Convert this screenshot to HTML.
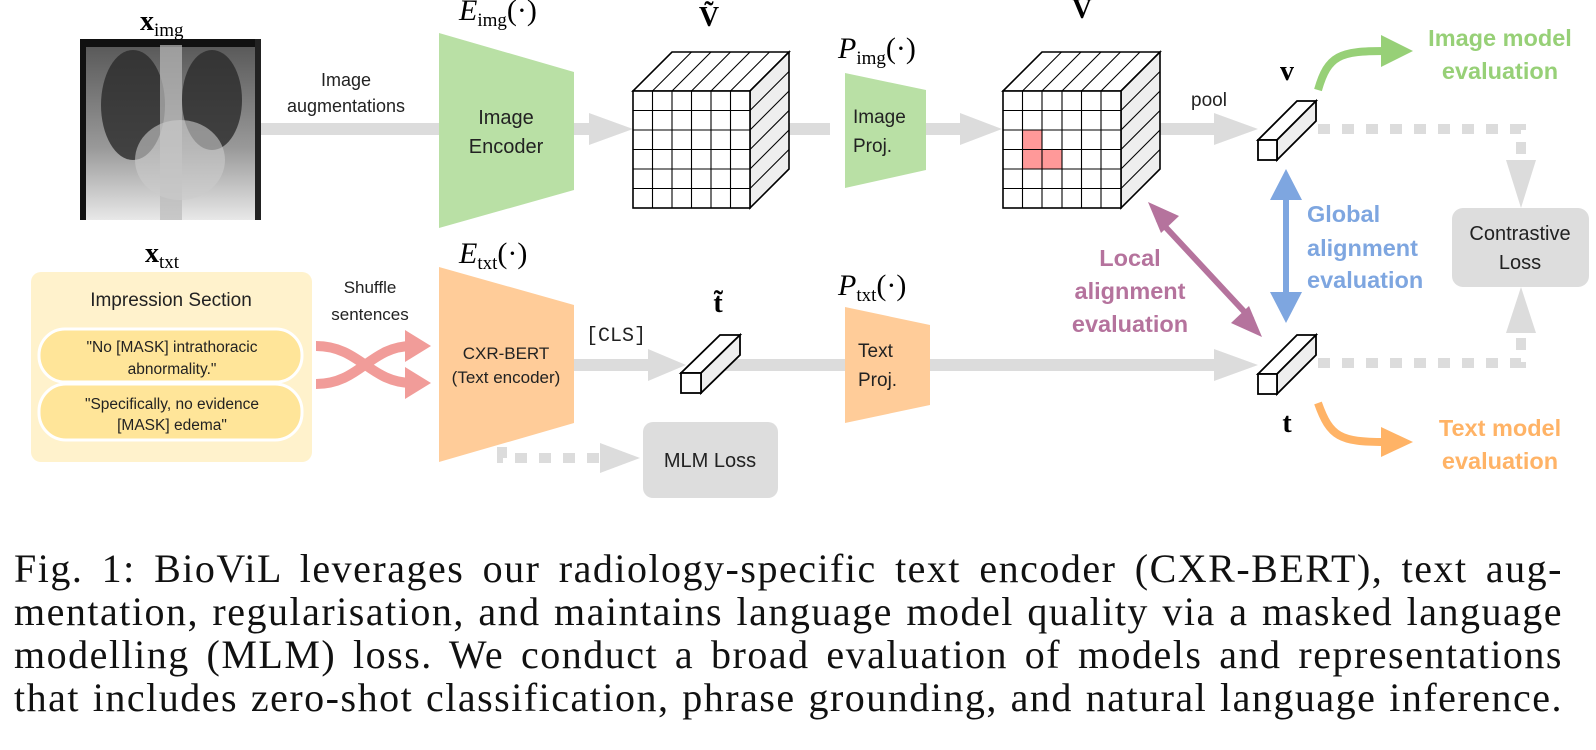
<!DOCTYPE html>
<html><head><meta charset="utf-8"><style>
html,body{margin:0;padding:0;background:#fff;}
svg{display:block;}
.s{font-family:"Liberation Sans",sans-serif;}
.m{font-family:"Liberation Serif",serif;}
#cap{position:absolute;left:14px;top:547px;width:1549px;font-family:"Liberation Serif",serif;font-size:40px;line-height:43px;letter-spacing:1.5px;color:#111;}
#cap div{white-space:nowrap;text-align:justify;text-align-last:justify;}
</style></head><body>
<div style="position:relative;width:1596px;height:750px;overflow:hidden">
<svg width="1596" height="750" viewBox="0 0 1596 750" xmlns="http://www.w3.org/2000/svg">
<defs>
<linearGradient id="xr" x1="0" y1="0" x2="0" y2="1"><stop offset="0" stop-color="#555"/><stop offset="0.6" stop-color="#999"/><stop offset="1" stop-color="#e8e8e8"/></linearGradient>
</defs>

<rect x="80" y="39" width="181" height="181" fill="url(#xr)"/>
<rect x="80" y="39" width="181" height="8" fill="#111"/>
<ellipse cx="133" cy="105" rx="32" ry="55" fill="#2a2a2a" opacity="0.8"/>
<ellipse cx="212" cy="100" rx="30" ry="50" fill="#2a2a2a" opacity="0.8"/>
<rect x="160" y="45" width="22" height="175" fill="#bbb" opacity="0.7"/>
<ellipse cx="180" cy="160" rx="45" ry="40" fill="#ccc" opacity="0.6"/>
<rect x="80" y="39" width="6" height="181" fill="#111"/>
<rect x="255" y="39" width="6" height="181" fill="#222"/>

<text class="m" x="140" y="30" font-size="28" font-weight="bold">x<tspan font-size="19" font-weight="normal" dy="6">img</tspan></text>
<text class="m" x="145" y="262" font-size="28" font-weight="bold">x<tspan font-size="19" font-weight="normal" dy="6">txt</tspan></text>
<text class="m" x="459" y="20" font-size="30" font-style="italic">E<tspan font-size="19" font-style="normal" dy="6">img</tspan><tspan dy="-6" font-style="normal">(·)</tspan></text>
<text class="m" x="459" y="263" font-size="30" font-style="italic">E<tspan font-size="19" font-style="normal" dy="6">txt</tspan><tspan dy="-6" font-style="normal">(·)</tspan></text>
<text class="m" x="838" y="58" font-size="30" font-style="italic">P<tspan font-size="19" font-style="normal" dy="6">img</tspan><tspan dy="-6" font-style="normal">(·)</tspan></text>
<text class="m" x="838" y="295" font-size="30" font-style="italic">P<tspan font-size="19" font-style="normal" dy="6">txt</tspan><tspan dy="-6" font-style="normal">(·)</tspan></text>
<text class="m" x="709" y="26" font-size="28" font-weight="bold" text-anchor="middle">Ṽ</text>
<text class="m" x="1082" y="18" font-size="28" font-weight="bold" text-anchor="middle">V</text>
<text class="m" x="718" y="312" font-size="28" font-weight="bold" text-anchor="middle">t̃</text>
<text class="m" x="1287" y="80" font-size="28" font-weight="bold" text-anchor="middle">v</text>
<text class="m" x="1287" y="432" font-size="28" font-weight="bold" text-anchor="middle">t</text>

<g fill="#dcdcdc">
<rect x="261" y="123" width="180" height="12"/>
<rect x="574" y="123" width="20" height="12"/>
<polygon points="589,113 633,129 589,145"/>
<rect x="750" y="123" width="80" height="12"/>
<rect x="926" y="123" width="38" height="12"/>
<polygon points="960,113 1002,129 960,145"/>
<rect x="1121" y="123" width="96" height="12"/>
<polygon points="1214,113 1258,129 1214,145"/>
<rect x="574" y="359" width="80" height="12"/>
<polygon points="648,349 686,365 648,381"/>
<rect x="700" y="359" width="145" height="12"/>
<rect x="930" y="359" width="288" height="12"/>
<polygon points="1214,349 1258,365 1214,381"/>
<polygon points="600,443 640,458 600,473"/>
<polygon points="1506,160 1536,160 1521,208"/>
<polygon points="1506,333 1536,333 1521,287"/>
</g>
<g stroke="#dcdcdc" stroke-width="10" fill="none" stroke-dasharray="12,12">
<path d="M502,447 V458 H600"/>
<path d="M1318,129 H1521 V162"/>
<path d="M1318,363 H1521 V333"/>
</g>

<text class="s" x="346" y="86" font-size="18" text-anchor="middle" fill="#222">Image</text>
<text class="s" x="346" y="112" font-size="18" text-anchor="middle" fill="#222">augmentations</text>

<polygon points="439,33 574,72 574,190 439,228" fill="#b9e0a5"/>
<text class="s" x="506" y="124" font-size="20" text-anchor="middle" fill="#222">Image</text>
<text class="s" x="506" y="153" font-size="20" text-anchor="middle" fill="#222">Encoder</text>
<polygon points="439,267 574,305 574,423 439,462" fill="#ffcc99"/>
<text class="s" x="506" y="359" font-size="17" text-anchor="middle" fill="#222">CXR-BERT</text>
<text class="s" x="506" y="383" font-size="17" text-anchor="middle" fill="#222">(Text encoder)</text>

<polygon points="845,73 926,90 926,170 845,188" fill="#b9e0a5"/>
<text class="s" x="853" y="123" font-size="19" fill="#222">Image</text>
<text class="s" x="853" y="152" font-size="19" fill="#222">Proj.</text>
<polygon points="845,307 930,325 930,405 845,423" fill="#ffcc99"/>
<text class="s" x="858" y="357" font-size="19" fill="#222">Text</text>
<text class="s" x="858" y="386" font-size="19" fill="#222">Proj.</text>

<g stroke="#000" stroke-width="1.6">
<polygon points="633,91 672,52 789,52 750,91" fill="#fff"/>
<polygon points="750,91 789,52 789,169 750,208" fill="#eee"/>
<g stroke-width="1.1">
<line x1="652.5" y1="91" x2="691.5" y2="52"/><line x1="672" y1="91" x2="711" y2="52"/><line x1="691.5" y1="91" x2="730.5" y2="52"/><line x1="711" y1="91" x2="750" y2="52"/><line x1="730.5" y1="91" x2="769.5" y2="52"/>
<line x1="750" y1="110.5" x2="789" y2="71.5"/><line x1="750" y1="130" x2="789" y2="91"/><line x1="750" y1="149.5" x2="789" y2="110.5"/><line x1="750" y1="169" x2="789" y2="130"/><line x1="750" y1="188.5" x2="789" y2="149.5"/>
</g>
<rect x="633" y="91" width="117" height="117" fill="#fff"/>
<g stroke-width="1.1">
<line x1="652.5" y1="91" x2="652.5" y2="208"/><line x1="672" y1="91" x2="672" y2="208"/><line x1="691.5" y1="91" x2="691.5" y2="208"/><line x1="711" y1="91" x2="711" y2="208"/><line x1="730.5" y1="91" x2="730.5" y2="208"/>
<line x1="633" y1="110.5" x2="750" y2="110.5"/><line x1="633" y1="130" x2="750" y2="130"/><line x1="633" y1="149.5" x2="750" y2="149.5"/><line x1="633" y1="169" x2="750" y2="169"/><line x1="633" y1="188.5" x2="750" y2="188.5"/>
</g>
</g>
<g stroke="#000" stroke-width="1.6">
<polygon points="1003,91 1042,52 1160,52 1121,91" fill="#fff"/>
<polygon points="1121,91 1160,52 1160,169 1121,208" fill="#eee"/>
<g stroke-width="1.1">
<line x1="1022.5" y1="91" x2="1061.5" y2="52"/><line x1="1042" y1="91" x2="1081" y2="52"/><line x1="1062" y1="91" x2="1101" y2="52"/><line x1="1081.5" y1="91" x2="1120.5" y2="52"/><line x1="1101" y1="91" x2="1140" y2="52"/>
<line x1="1121" y1="110.5" x2="1160" y2="71.5"/><line x1="1121" y1="130" x2="1160" y2="91"/><line x1="1121" y1="149.5" x2="1160" y2="110.5"/><line x1="1121" y1="169" x2="1160" y2="130"/><line x1="1121" y1="188.5" x2="1160" y2="149.5"/>
</g>
<rect x="1003" y="91" width="118" height="117" fill="#fff"/>
<rect x="1023" y="130" width="19.5" height="19.5" fill="#f99" stroke="none"/>
<rect x="1023" y="149.5" width="39" height="19.5" fill="#f99" stroke="none"/>
<g stroke-width="1.1">
<line x1="1022.5" y1="91" x2="1022.5" y2="208"/><line x1="1042" y1="91" x2="1042" y2="208"/><line x1="1062" y1="91" x2="1062" y2="208"/><line x1="1081.5" y1="91" x2="1081.5" y2="208"/><line x1="1101" y1="91" x2="1101" y2="208"/>
<line x1="1003" y1="110.5" x2="1121" y2="110.5"/><line x1="1003" y1="130" x2="1121" y2="130"/><line x1="1003" y1="149.5" x2="1121" y2="149.5"/><line x1="1003" y1="169" x2="1121" y2="169"/><line x1="1003" y1="188.5" x2="1121" y2="188.5"/>
</g>
</g>

<g stroke="#000" stroke-width="1.8" fill="#fff">
<polygon points="681,373 720,335 740,335 701,373"/><polygon points="701,373 740,335 740,355 701,393" fill="#eee"/><rect x="681" y="373" width="20" height="20"/>
<polygon points="1258,140 1297,101 1316,101 1277,140"/><polygon points="1277,140 1316,101 1316,121 1277,160" fill="#eee"/><rect x="1258" y="140" width="19" height="20"/>
<polygon points="1258,374 1297,335 1316,335 1277,374"/><polygon points="1277,374 1316,335 1316,355 1277,394" fill="#eee"/><rect x="1258" y="374" width="19" height="20"/>
</g>

<text class="s" x="1209" y="106" font-size="19" text-anchor="middle" fill="#222">pool</text>
<text x="616" y="341" font-size="20" text-anchor="middle" fill="#222" style="font-family:'Liberation Mono',monospace">[CLS]</text>

<rect x="31" y="272" width="281" height="190" rx="10" fill="#fff2cc"/>
<text class="s" x="171" y="306" font-size="19" text-anchor="middle" fill="#222">Impression Section</text>
<rect x="39" y="329" width="263" height="53" rx="26" fill="#ffe599" stroke="#fff" stroke-width="3"/>
<rect x="39" y="384" width="263" height="56" rx="27" fill="#ffe599" stroke="#fff" stroke-width="3"/>
<g class="s" font-size="15.5" text-anchor="middle" fill="#222">
<text x="172" y="352">"No [MASK] intrathoracic</text><text x="172" y="374">abnormality."</text>
<text x="172" y="409">"Specifically, no evidence</text><text x="172" y="430">[MASK] edema"</text>
</g>
<text class="s" x="370" y="293" font-size="17" text-anchor="middle" fill="#222">Shuffle</text>
<text class="s" x="370" y="320" font-size="17" text-anchor="middle" fill="#222">sentences</text>
<g stroke="#f19c99" stroke-width="10" fill="none">
<path d="M316,346 C360,346 370,383 412,383"/>
<path d="M316,384 C360,384 370,346 412,346"/>
</g>
<g fill="#f19c99">
<polygon points="405,330 431,346 405,362"/><polygon points="405,367 431,383 405,399"/>
</g>

<rect x="643" y="422" width="135" height="76" rx="10" fill="#dddddd"/>
<text class="s" x="710" y="467" font-size="20" text-anchor="middle" fill="#222">MLM Loss</text>
<rect x="1452" y="208" width="137" height="79" rx="11" fill="#dddddd"/>
<text class="s" x="1520" y="240" font-size="20" text-anchor="middle" fill="#222">Contrastive</text>
<text class="s" x="1520" y="269" font-size="20" text-anchor="middle" fill="#222">Loss</text>

<g stroke="#7ea6e0" stroke-width="6"><line x1="1286" y1="190" x2="1286" y2="302"/></g>
<polygon points="1270,200 1286,169 1302,200" fill="#7ea6e0"/>
<polygon points="1270,292 1286,323 1302,292" fill="#7ea6e0"/>
<g stroke="#b5739d" stroke-width="6"><line x1="1158" y1="219" x2="1252" y2="320"/></g>
<polygon points="1148,202 1179,216 1161,233" fill="#b5739d"/>
<polygon points="1262,337 1231,323 1249,306" fill="#b5739d"/>
<g class="s" font-size="23.5" font-weight="bold">
<text x="1307" y="222" fill="#7ea6e0">Global</text>
<text x="1307" y="256" fill="#7ea6e0">alignment</text>
<text x="1307" y="288" fill="#7ea6e0">evaluation</text>
<text x="1130" y="266" fill="#b5739d" text-anchor="middle">Local</text>
<text x="1130" y="299" fill="#b5739d" text-anchor="middle">alignment</text>
<text x="1130" y="332" fill="#b5739d" text-anchor="middle">evaluation</text>
<text x="1500" y="46" fill="#97d077" text-anchor="middle">Image model</text>
<text x="1500" y="79" fill="#97d077" text-anchor="middle">evaluation</text>
<text x="1500" y="436" fill="#ffb366" text-anchor="middle">Text model</text>
<text x="1500" y="469" fill="#ffb366" text-anchor="middle">evaluation</text>
</g>
<path d="M1318,90 C1328,55 1340,51 1385,51" stroke="#97d077" stroke-width="8" fill="none"/>
<polygon points="1381,35 1413,51 1381,67" fill="#97d077"/>
<path d="M1318,403 C1330,437 1340,442 1385,442" stroke="#ffb366" stroke-width="8" fill="none"/>
<polygon points="1381,427 1413,442 1381,457" fill="#ffb366"/>
</svg>
<div id="cap">
<div>Fig. 1: BioViL leverages our radiology-specific text encoder (CXR-BERT), text aug-</div>
<div>mentation, regularisation, and maintains language model quality via a masked language</div>
<div>modelling (MLM) loss. We conduct a broad evaluation of models and representations</div>
<div>that includes zero-shot classification, phrase grounding, and natural language inference.</div>
</div>
</div>
</body></html>
